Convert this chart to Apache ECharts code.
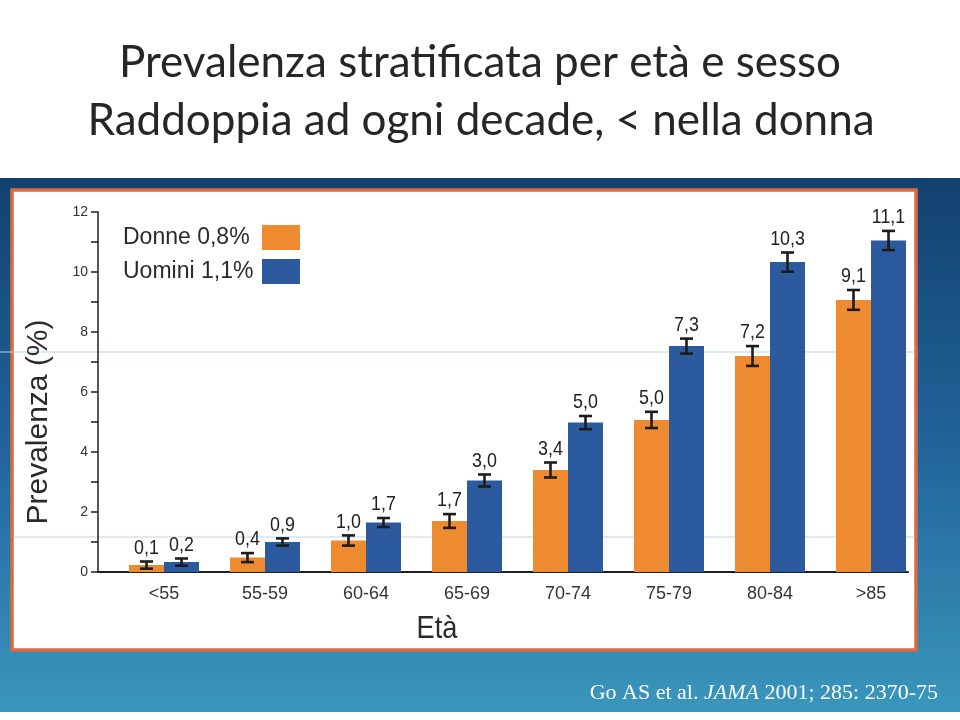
<!DOCTYPE html>
<html><head><meta charset="utf-8">
<script src="https://cdn.jsdelivr.net/npm/echarts@6/dist/echarts.min.js"></script>
<style>html,body{margin:0;padding:0;background:#fff}#c{width:960px;height:720px}</style>
</head><body><div id="c"></div>
<script>
const categories = ['<55','55-59','60-64','65-69','70-74','75-79','80-84','>85'];
const donne = [0.23, 0.48, 1.05, 1.7, 3.4, 5.07, 7.2, 9.07];
const uomini = [0.33, 1.0, 1.65, 3.05, 4.98, 7.53, 10.33, 11.05];
const donneErr = [0.12, 0.15, 0.17, 0.23, 0.25, 0.27, 0.33, 0.33];
const uominiErr = [0.12, 0.12, 0.15, 0.2, 0.22, 0.25, 0.32, 0.32];
const donneLabels = ['0,1','0,4','1,0','1,7','3,4','5,0','7,2','9,1'];
const uominiLabels = ['0,2','0,9','1,7','3,0','5,0','7,3','10,3','11,1'];
const legendNames = ['Donne 0,8%', 'Uomini 1,1%'];
const yTicks = [0, 2, 4, 6, 8, 10, 12];

const SANS = '"Liberation Sans", Arial, Helvetica, sans-serif';
const ORANGE = '#ee8a2f';
const BLUE = '#2b5a9e';
const BAR_W = 35;

function errRenderer(labels, offset) {
  return function (params, api) {
    const i = api.value(0), v = api.value(1), e = api.value(2);
    const t = api.coord([i, v + e]);
    const b = api.coord([i, v - e]);
    const x = t[0] + offset;
    const hw = 6.5;
    const st = {stroke: '#1c1c1c', lineWidth: 2.6};
    return {type: 'group', children: [
      {type: 'line', shape: {x1: x, y1: t[1], x2: x, y2: b[1]}, style: st},
      {type: 'line', shape: {x1: x - hw, y1: t[1], x2: x + hw, y2: t[1]}, style: st},
      {type: 'line', shape: {x1: x - hw, y1: b[1], x2: x + hw, y2: b[1]}, style: st},
      {type: 'text', x: x, y: t[1] - 3, scaleX: 0.85,
        style: {text: labels[params.dataIndex], x: 0, y: 0,
        align: 'center', verticalAlign: 'bottom', fill: '#222',
        font: '21px ' + SANS}}
    ]};
  };
}

const chart = echarts.init(document.getElementById('c'), null, {renderer: 'canvas'});
chart.setOption({
  animation: false,
  backgroundColor: '#ffffff',
  graphic: [
    {type: 'rect', z: -10, shape: {x: 0, y: 178, width: 960, height: 534},
      style: {fill: new echarts.graphic.LinearGradient(0, 0, 0, 1, [
        {offset: 0, color: '#12416f'}, {offset: 0.5, color: '#21649a'}, {offset: 1, color: '#3a96bc'}])}},
    {type: 'rect', z: -9, shape: {x: 12, y: 190, width: 904, height: 460},
      style: {fill: '#ffffff', stroke: '#dc6a40', lineWidth: 3.5}},
    {type: 'line', z: -8, shape: {x1: 0, y1: 352, x2: 914, y2: 352}, style: {stroke: '#b9d7e6', lineWidth: 1}},
    {type: 'line', z: -8, shape: {x1: 14, y1: 537, x2: 914, y2: 537}, style: {stroke: '#b9d7e6', lineWidth: 1}},
    {type: 'text', style: {text: 'Prevalenza stratificata per età e sesso', x: 480, y: 63,
      align: 'center', verticalAlign: 'middle', fill: '#262626', font: '44px Lato, "Open Sans", sans-serif'}},
    {type: 'text', style: {text: 'Raddoppia ad ogni decade, < nella donna', x: 481, y: 121,
      align: 'center', verticalAlign: 'middle', fill: '#262626', font: '44px Lato, "Open Sans", sans-serif'}},
    {type: 'text', x: 39, y: 422, rotation: Math.PI / 2,
      style: {text: 'Prevalenza (%)', x: 0, y: 0,
      align: 'center', verticalAlign: 'middle', fill: '#2a2a2a', font: '30px ' + SANS}},
    {type: 'text', x: 437, y: 629, scaleX: 0.85,
      style: {text: 'Età', x: 0, y: 0,
      align: 'center', verticalAlign: 'middle', fill: '#2a2a2a', font: '32px ' + SANS}},
    {type: 'text', style: {
      rich: {n: {fill: '#ffffff', font: '22px "Liberation Serif", "DejaVu Serif", serif'},
             i: {fill: '#ffffff', font: 'italic 22px "Liberation Serif", "DejaVu Serif", serif'}},
      text: '{n|Go AS et al. }{i|JAMA}{n| 2001; 285: 2370-75}', x: 938, y: 693,
      align: 'right', verticalAlign: 'middle'}}
  ],
  legend: {
    data: legendNames, orient: 'vertical', left: 118, top: 220, align: 'right',
    itemWidth: 38, itemHeight: 25, itemGap: 9, icon: 'rect',
    formatter: n => '{a|' + n + '}',
    textStyle: {color: '#2a2a2a', rich: {a: {fontSize: 23, fontFamily: SANS, color: '#2a2a2a', width: 134, align: 'left', lineHeight: 25}}}
  },
  grid: [
    {left: 113.5, right: 38.5, top: 212, bottom: 148},
    {left: 98, right: 52, top: 212, bottom: 148}
  ],
  xAxis: [
    {type: 'category', data: categories, gridIndex: 0,
      axisLine: {show: false}, axisTick: {show: false},
      axisLabel: {fontSize: 18, fontFamily: SANS, color: '#333', margin: 13}},
    {type: 'value', gridIndex: 1, min: 0, max: 1,
      axisLine: {show: true, onZero: false, lineStyle: {color: '#1f1f1f', width: 2}},
      axisTick: {show: false}, axisLabel: {show: false}, splitLine: {show: false}}
  ],
  yAxis: [
    {type: 'value', gridIndex: 0, min: 0, max: 12, interval: 2, show: false},
    {type: 'value', gridIndex: 1, min: 0, max: 12, interval: 2,
      axisLine: {show: true, lineStyle: {color: '#1f1f1f', width: 1.5}},
      axisTick: {show: true, length: 7, lineStyle: {color: '#1f1f1f', width: 1.5}},
      minorTick: {show: true, splitNumber: 2, length: 7, lineStyle: {color: '#1f1f1f', width: 1.5}},
      splitLine: {show: false},
      axisLabel: {fontSize: 14, fontFamily: SANS, color: '#333', margin: 10,
        formatter: v => (yTicks.indexOf(v) >= 0 ? String(v) : '')}}
  ],
  series: [
    {name: legendNames[0], type: 'bar', data: donne, barWidth: BAR_W, barGap: '0%',
      xAxisIndex: 0, yAxisIndex: 0, itemStyle: {color: ORANGE}},
    {name: legendNames[1], type: 'bar', data: uomini, barWidth: BAR_W, barGap: '0%',
      xAxisIndex: 0, yAxisIndex: 0, itemStyle: {color: BLUE}},
    {name: 'errD', type: 'custom', z: 5, xAxisIndex: 0, yAxisIndex: 0,
      renderItem: errRenderer(donneLabels, -BAR_W / 2),
      data: donne.map((v, i) => [i, v, donneErr[i]])},
    {name: 'errU', type: 'custom', z: 5, xAxisIndex: 0, yAxisIndex: 0,
      renderItem: errRenderer(uominiLabels, BAR_W / 2),
      data: uomini.map((v, i) => [i, v, uominiErr[i]])}
  ]
});
</script></body></html>
